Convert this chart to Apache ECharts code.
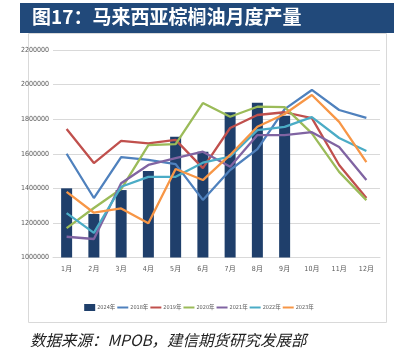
<!DOCTYPE html>
<html><head><meta charset="utf-8">
<script src="https://cdn.jsdelivr.net/npm/echarts@6/dist/echarts.min.js"></script>
<style>html,body{margin:0;padding:0;background:#fff}#c{width:398px;height:356px}</style>
</head><body><div id="c"></div>
<script>
const months = ['1月','2月','3月','4月','5月','6月','7月','8月','9月','10月','11月','12月'];
const yTicks = [1000000,1200000,1400000,1600000,1800000,2000000,2200000];
const s2024 = [1400000,1252000,1390000,1500000,1699000,1612000,1840000,1895000,1820000];
const s2018 = [1600000,1344000,1580000,1565000,1540000,1333000,1506000,1627000,1858000,1969000,1853000,1808000];
const s2019 = [1743000,1546000,1674000,1660000,1680000,1517000,1749000,1824000,1840000,1806000,1535000,1344000];
const s2020 = [1170000,1286000,1396000,1650000,1656000,1893000,1814000,1872000,1870000,1718000,1495000,1332000];
const s2021 = [1120000,1107000,1429000,1535000,1575000,1612000,1525000,1708000,1708000,1725000,1639000,1448000];
const s2022 = [1257000,1142000,1409000,1466000,1467000,1548000,1583000,1737000,1755000,1812000,1691000,1616000];
const s2023 = [1380000,1259000,1284000,1198000,1512000,1448000,1593000,1756000,1830000,1940000,1784000,1551000];
const legendNames = ['2024年','2018年','2019年','2020年','2021年','2022年','2023年'];

const chart = echarts.init(document.getElementById('c'));
const lineColors = ['#4F81BD','#C0504D','#9BBB59','#8064A2','#4BACC6','#F79646'];
const lineData = [s2018,s2019,s2020,s2021,s2022,s2023];
const narrow = "'Liberation Sans Narrow','DejaVu Sans Condensed','Noto Sans CJK SC',sans-serif";
const series = [{
  name: legendNames[0], type: 'bar', data: s2024, barWidth: 11,
  itemStyle: {color: '#1F3F6B'}, z: 1
}];
lineData.forEach((d,i)=>{
  series.push({name: legendNames[i+1], type:'line', data:d, symbol:'none',
    lineStyle:{width:2.3,color:lineColors[i]}, itemStyle:{color:lineColors[i]}, z:3});
});
chart.setOption({
  animation:false,
  graphic:[
    {type:'rect', shape:{x:20,y:3,width:374,height:30}, style:{fill:'#21497A'}},
    {type:'text', left:32, top:7, style:{text:'图17：马来西亚棕榈油月度产量', fill:'#fff',
      font:"bold 19px 'Noto Sans CJK SC',sans-serif"}},
    {type:'rect', shape:{x:28.5,y:33.5,width:358,height:289}, style:{fill:'none',stroke:'#d9d9d9',lineWidth:1}},
    {type:'text', left:30, top:332, style:{text:'数据来源：MPOB，建信期货研究发展部', fill:'#222',
      font:"italic 15.5px 'Noto Sans CJK SC',sans-serif"}}
  ],
  legend:{
    data:[{name:legendNames[0],icon:'rect'}].concat(legendNames.slice(1).map(n=>({name:n, itemStyle:{opacity:0}}))),
    left:'center', top:299, itemWidth:11, itemHeight:7, itemGap:1,
    textStyle:{fontSize:5.5, color:'#595959', fontFamily:narrow, padding:[0,0,0,-3]}
  },
  grid:{left:53,right:18,top:50,bottom:98.5},
  xAxis:{type:'category', data:months,
    axisLine:{show:true,lineStyle:{color:'#d9d9d9'}}, axisTick:{show:false},
    axisLabel:{fontSize:7,color:'#595959',fontFamily:narrow,margin:8}},
  yAxis:{type:'value', min:yTicks[0], max:yTicks[yTicks.length-1], interval:200000,
    axisLine:{show:false}, axisTick:{show:false},
    splitLine:{lineStyle:{color:'#d9d9d9'}},
    axisLabel:{fontSize:7,color:'#595959',fontFamily:narrow,margin:4,formatter:v=>String(v)}},
  series:series
});
</script></body></html>
